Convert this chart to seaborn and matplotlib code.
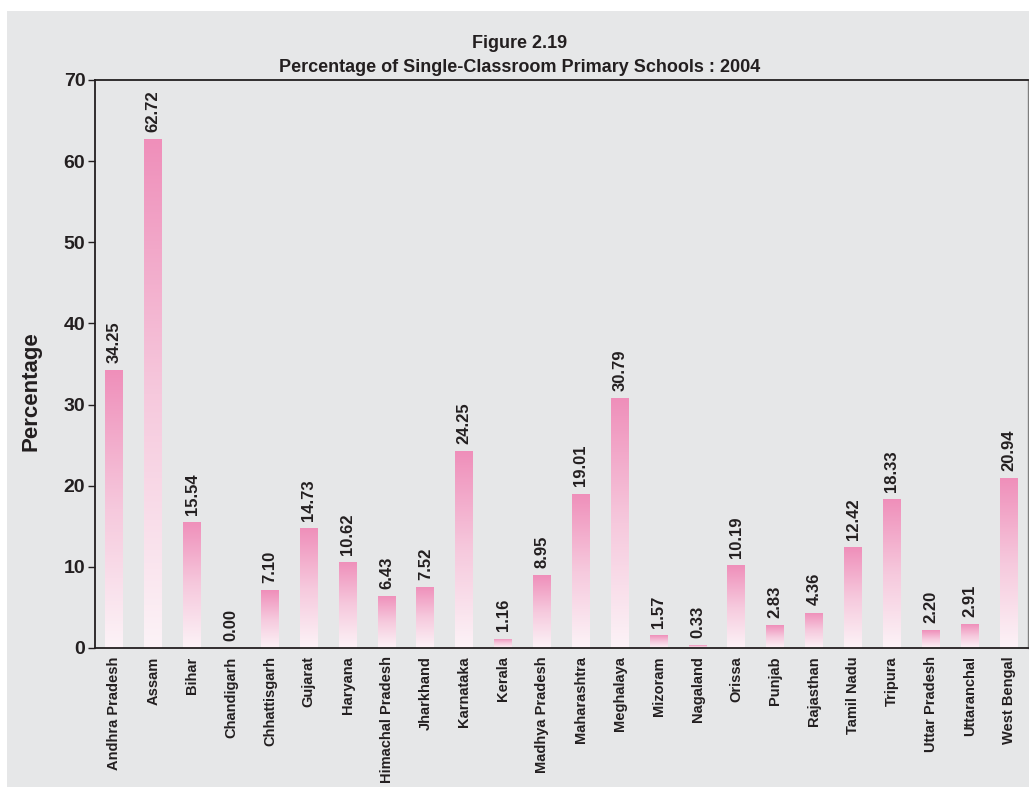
import numpy as np
import pandas as pd
import matplotlib
matplotlib.use("Agg")
import matplotlib.pyplot as plt
import seaborn as sns
from matplotlib.colors import LinearSegmentedColormap
from matplotlib.patches import Rectangle

states = ["Andhra Pradesh", "Assam", "Bihar", "Chandigarh", "Chhattisgarh", "Gujarat",
          "Haryana", "Himachal Pradesh", "Jharkhand", "Karnataka", "Kerala",
          "Madhya Pradesh", "Maharashtra", "Meghalaya", "Mizoram", "Nagaland", "Orissa",
          "Punjab", "Rajasthan", "Tamil Nadu", "Tripura", "Uttar Pradesh", "Uttaranchal",
          "West Bengal"]
values = [34.25, 62.72, 15.54, 0.00, 7.10, 14.73, 10.62, 6.43, 7.52, 24.25, 1.16,
          8.95, 19.01, 30.79, 1.57, 0.33, 10.19, 2.83, 4.36, 12.42, 18.33, 2.20, 2.91,
          20.94]
yticks = [0, 10, 20, 30, 40, 50, 60, 70]

sns.set_theme(style="white")
plt.rcParams['font.family'] = ['Liberation Sans', 'DejaVu Sans']

BG = "#e6e7e8"
TXT = "#231f20"

fig = plt.figure(figsize=(10.29, 7.87), dpi=100, facecolor="white")
fig.patches.append(Rectangle((7 / 1029, 0), 1 - 7 / 1029, 1 - 11 / 787,
                             transform=fig.transFigure, facecolor=BG,
                             edgecolor="none", zorder=-10))
ax = fig.add_axes([95 / 1029, 1 - 648 / 787, (1028 - 95) / 1029, (648 - 80) / 787])
ax.set_facecolor(BG)

df = pd.DataFrame({"state": states, "value": values})
sns.barplot(data=df, x="state", y="value", ax=ax, width=0.46, color="#f08fbb",
            saturation=1, errorbar=None)

cmap = LinearSegmentedColormap.from_list("pinkgrad", ["#fcf3f7", "#f6c9dd", "#ef8fba"])
grad = np.linspace(0, 1, 256).reshape(-1, 1)
for p in ax.patches:
    x0, y0 = p.get_x(), p.get_y()
    w, h = p.get_width(), p.get_height()
    if h <= 0:
        p.set_visible(False)
        continue
    p.set_facecolor("none")
    p.set_edgecolor("none")
    im = ax.imshow(grad, extent=(x0, x0 + w, y0, y0 + h), origin="lower",
                   cmap=cmap, aspect="auto", zorder=2, interpolation="bilinear")
    im.set_clip_path(p)

for i, v in enumerate(values):
    ax.text(i, v + 0.9, f"{v:.2f}", rotation=90, ha="center", va="bottom",
            fontsize=12, color=TXT, fontweight="bold")

ax.set_xlim(-0.5, len(states) - 0.5)
ax.set_ylim(0, 70)
ax.set_yticks(yticks)
ax.set_yticklabels([str(t) for t in yticks], fontsize=14, fontweight="bold", color=TXT)

ax.set_xticks(np.arange(len(states)))
ax.set_xticklabels(states, rotation=90, fontsize=10.5, fontweight="bold", color=TXT)
ax.tick_params(axis="x", which="major", length=0, pad=6)
ax.set_xticks(np.arange(len(states) + 1) - 0.5, minor=True)
ax.tick_params(axis="x", which="minor", length=5, width=1.0, color=TXT, direction="out")
ax.tick_params(axis="y", which="major", length=5, width=1.0, color=TXT, direction="out",
               left=True, pad=2)

ax.set_xlabel("")
ax.set_ylabel("Percentage", fontsize=16, fontweight="bold", color=TXT)
ax.yaxis.set_label_coords(-0.057, 0.452)

for side in ["left", "bottom", "top"]:
    ax.spines[side].set_visible(True)
    ax.spines[side].set_color(TXT)
    ax.spines[side].set_linewidth(1.3)
ax.spines["right"].set_color("#7f7f7f")
ax.spines["right"].set_linewidth(1.0)

fig.text(0.505, 1 - 43 / 787, "Figure 2.19", ha="center", va="center",
         fontsize=13, fontweight="bold", color=TXT)
fig.text(0.505, 1 - 67 / 787, "Percentage of Single-Classroom Primary Schools : 2004",
         ha="center", va="center", fontsize=13, fontweight="bold", color=TXT)

fig.savefig("out.png", dpi=100, facecolor=fig.get_facecolor())
